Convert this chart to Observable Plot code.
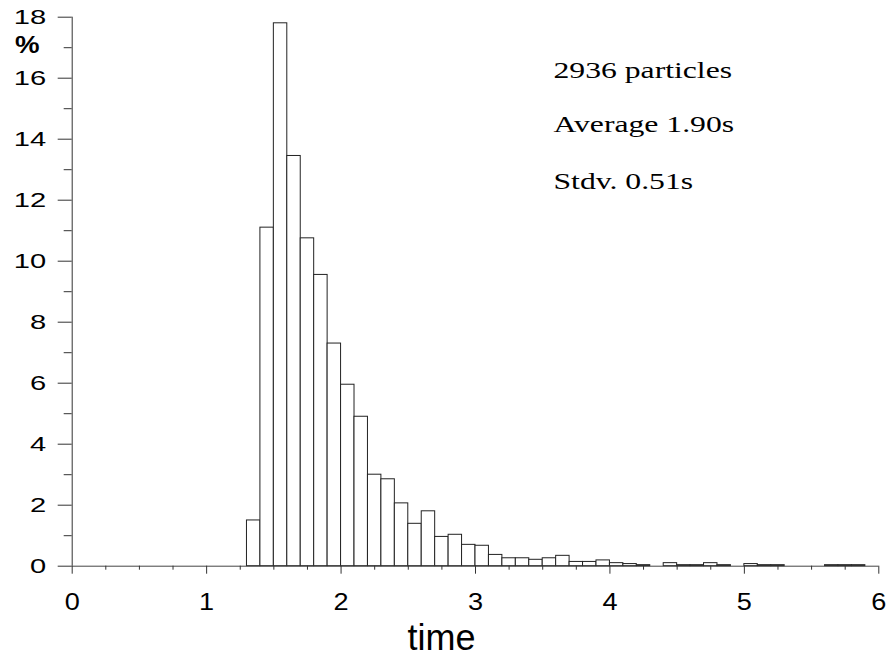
<!DOCTYPE html>
<html>
<head>
<meta charset="utf-8">
<script src="https://cdn.jsdelivr.net/npm/d3@7"></script>
<script src="https://cdn.jsdelivr.net/npm/@observablehq/plot@0.6"></script>
<style>
  html, body { margin: 0; padding: 0; background: #fff; }
  #chart svg { display: block; }
</style>
</head>
<body>
<div id="chart"></div>
<script>
// ---- data ----
const binStart = [1.3, 1.4, 1.5, 1.6, 1.7, 1.8, 1.9, 2.0, 2.1, 2.2,
                  2.3, 2.4, 2.5, 2.6, 2.7, 2.8, 2.9, 3.0, 3.1, 3.2,
                  3.3, 3.4, 3.5, 3.6, 3.7, 3.8, 3.9, 4.0, 4.1, 4.2,
                  4.3, 4.4, 4.5, 4.6, 4.7, 4.8, 4.9, 5.0, 5.1, 5.2,
                  5.3, 5.4, 5.5, 5.6, 5.7, 5.8];
const percent  = [1.50, 11.1, 17.8, 13.45, 10.75, 9.55, 7.3, 5.95, 4.9, 3.0,
                  2.85, 2.06, 1.39, 1.80, 0.96, 1.03, 0.70, 0.67, 0.37, 0.26,
                  0.26, 0.21, 0.26, 0.34, 0.14, 0.14, 0.19, 0.10, 0.07, 0.034,
                  0, 0.10, 0.034, 0.034, 0.10, 0.034, 0, 0.07, 0.034, 0.034,
                  0, 0, 0, 0.034, 0.034, 0.034];
const binWidth = 0.1;

const xTicks      = [0, 1, 2, 3, 4, 5, 6];
const xMinorTicks = [0.25, 0.5, 0.75, 1.25, 1.5, 1.75, 2.25, 2.5, 2.75, 3.25, 3.5, 3.75,
                     4.25, 4.5, 4.75, 5.25, 5.5, 5.75];
const yTicks      = [0, 2, 4, 6, 8, 10, 12, 14, 16, 18];
const yMinorTicks = [1, 3, 5, 7, 9, 11, 13, 15, 17];

const xLabel = "time";
const yLabel = "%";
const notes  = ["2936 particles", "Average 1.90s", "Stdv. 0.51s"];
const noteX  = [3.58, 3.58, 3.58];
const noteY  = [16.0, 14.23, 12.38];

// ---- build table ----
const bars = binStart.map((s, i) => ({x1: s, x2: s + binWidth, y: percent[i]}))
                     .filter(d => d.y > 0);

const SANS = "'Liberation Sans', Arial, Helvetica, sans-serif";
const SERIF = "'Liberation Serif', 'Times New Roman', serif";

// distinct font sizes also serve to tell the text groups apart afterwards
const FS_Y = 20.5, FS_X = 24.2, FS_NOTE = 24, FS_PCT = 23, FS_XLAB = 36;

const chart = Plot.plot({
  width: 892,
  height: 662,
  marginLeft: 71.7,
  marginRight: 13.7,
  marginTop: 16.7,
  marginBottom: 96.3,
  style: {background: "#fff", color: "#000", overflow: "visible"},
  x: {domain: [0, 6], axis: null},
  y: {domain: [0, 18], axis: null},
  marks: [
    Plot.rectY(bars, {x1: "x1", x2: "x2", y: "y", fill: "white", stroke: "#222", strokeWidth: 1, inset: 0}),
    Plot.ruleX([0], {stroke: "#333"}),
    Plot.ruleY([0], {stroke: "#444"}),
    Plot.axisY(yTicks, {anchor: "left", tickSize: 14, tickPadding: 12, label: null,
      tickFormat: d => String(d), stroke: "#333", fill: "#000", fontSize: FS_Y, fontFamily: SANS,
      fontVariant: "normal"}),
    Plot.axisY(yMinorTicks, {anchor: "left", tickSize: 8, tickFormat: () => "", label: null,
      stroke: "#333"}),
    Plot.axisX(xTicks, {anchor: "bottom", tickSize: 8, tickPadding: 19, label: null,
      tickFormat: d => String(d), stroke: "#333", fill: "#000", fontSize: FS_X, fontFamily: SANS,
      fontVariant: "normal"}),
    Plot.axisX(xMinorTicks, {anchor: "bottom", tickSize: 4, tickFormat: () => "", label: null,
      stroke: "#333"}),
    Plot.text([xLabel], {frameAnchor: "bottom", dx: -34, dy: 72, fontSize: FS_XLAB, fontFamily: SANS,
      fill: "#000", textAnchor: "middle", lineAnchor: "middle"}),
    Plot.text([yLabel], {frameAnchor: "top-left", dx: -45, dy: 28, fontSize: FS_PCT, fontWeight: "bold",
      fontFamily: SANS, fill: "#000", textAnchor: "middle", lineAnchor: "middle"}),
    Plot.text(notes, {x: noteX, y: noteY, text: d => d, textAnchor: "start", lineAnchor: "bottom",
      fontSize: FS_NOTE, fontFamily: SERIF, fill: "#000"})
  ]
});

document.getElementById("chart").appendChild(chart);

// widen the lettering (the reference's type is horizontally stretched)
function widen(fs, factor) {
  chart.querySelectorAll(`g[font-size="${fs}"] text`).forEach(t => {
    if (!t.textContent) return;
    const w = t.getComputedTextLength();
    t.setAttribute("textLength", (w * factor).toFixed(2));
    t.setAttribute("lengthAdjust", "spacingAndGlyphs");
  });
}
widen(FS_Y, 1.42);
widen(FS_X, 1.12);
widen(FS_NOTE, 1.32);
widen(FS_PCT, 1.2);
</script>
</body>
</html>
